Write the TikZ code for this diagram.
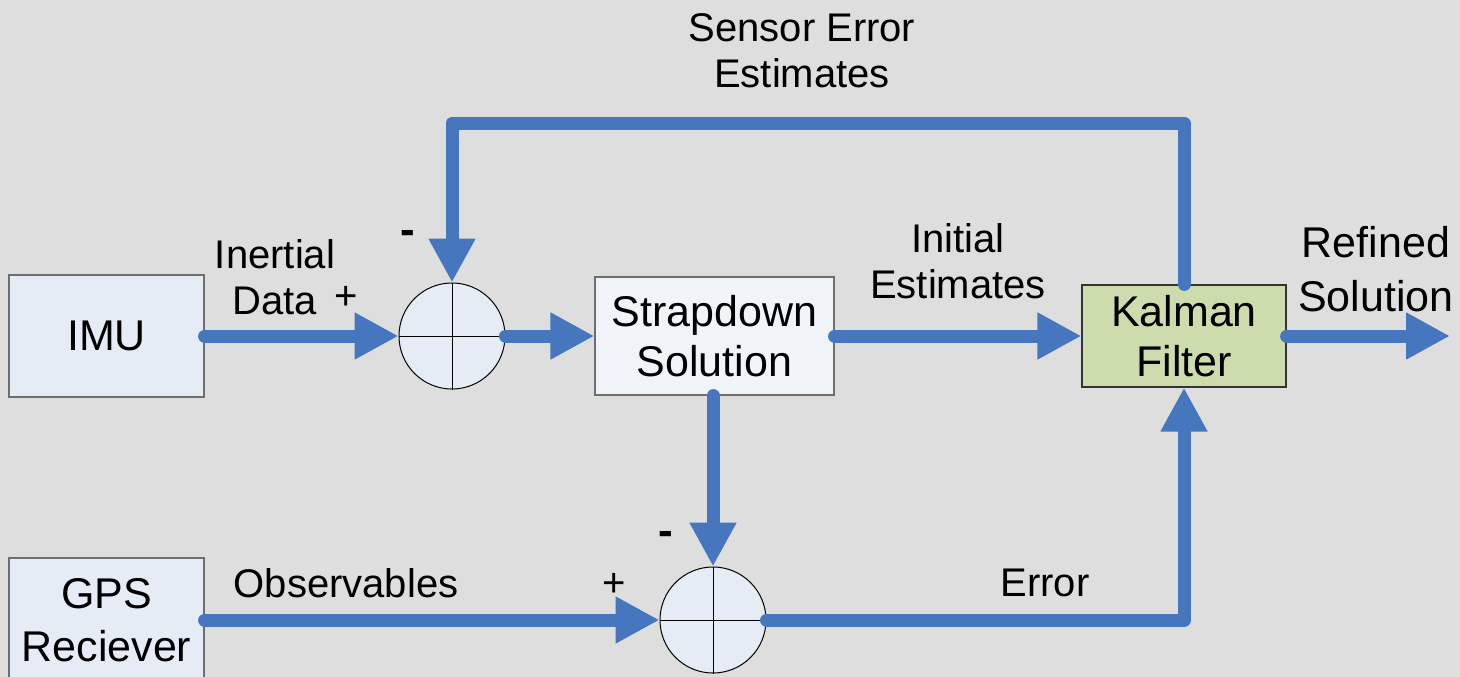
\documentclass[tikz,border=0pt]{standalone}
\usepackage{fontspec}
\setmainfont{Liberation Sans}
\usetikzlibrary{arrows.meta}
\definecolor{bg}{RGB}{222,222,222}
\definecolor{flow}{RGB}{70,119,190}
\definecolor{boxblue}{RGB}{230,236,246}
\definecolor{boxpale}{RGB}{240,243,248}
\definecolor{kalgreen}{RGB}{205,220,172}
\definecolor{edge}{RGB}{110,110,110}
\begin{document}
\begin{tikzpicture}[x=1pt,y=-1pt,
  block/.style={draw=edge, line width=1.2pt, inner sep=0pt, align=center,
    font=\fontsize{43}{50}\selectfont},
  sumnode/.style={circle, draw=black, line width=1pt, fill=boxblue,
    minimum size=106pt, inner sep=0pt},
  flowline/.style={draw=flow, line width=13pt, line cap=round, line join=round,
    -{Triangle[length=44pt,width=44pt]}},
  lab/.style={font=\fontsize{40}{46}\selectfont, align=center, inner sep=0pt},
  sign/.style={font=\fontsize{40}{46}\selectfont, inner sep=0pt},
  minus/.style={font=\fontsize{44}{46}\selectfont\bfseries, inner sep=0pt}]
  % canvas
  \fill[bg] (0,0) rectangle (1460,677);
  \useasboundingbox (0,0) rectangle (1460,677);
  \clip (0,0) rectangle (1460,677);

  % blocks
  \node[block, fill=boxblue, minimum width=195pt, minimum height=122pt] (imu) at (106.5,336) {IMU};
  \node[block, fill=boxpale, minimum width=239pt, minimum height=118pt] (sd) at (714.5,336) {Strapdown\\Solution};
  \node[block, draw=black!80, fill=kalgreen, minimum width=204pt, minimum height=102pt] (kf) at (1184,336) {Kalman\\Filter};
  \node[block, fill=boxblue, minimum width=195pt, minimum height=124pt, font=\fontsize{43}{53}\selectfont] (gps) at (106.5,620) {GPS\\Reciever};

  % summing junctions
  \node[sumnode] (s1) at (452,336) {};
  \draw[line width=1pt] (s1.north) -- (s1.south) (s1.west) -- (s1.east);
  \node[sumnode] (s2) at (713,620) {};
  \draw[line width=1pt] (s2.north) -- (s2.south) (s2.west) -- (s2.east);

  % signal flow
  \coordinate (out) at (1450,336);
  \coordinate (fbR) at (1184,123);
  \coordinate (fbL) at (452,123);
  \coordinate (errC) at (1184,620);
  \draw[flowline] (imu.east) -- (s1.west);
  \draw[flowline] (s1.east) -- (sd.west);
  \draw[flowline] (sd.east) -- (kf.west);
  \draw[flowline] (kf.east) -- (out);
  \draw[flowline] (kf.north) -- (fbR) -- (fbL) -- (s1.north);
  \draw[flowline] (s2 |- sd.south) -- (s2.north);
  \draw[flowline] (gps.east) -- (s2.west);
  \draw[flowline] (s2.east) -- (errC) -- (kf.south);

  % labels
  \node[lab] (lse) at (802,51) {Sensor Error\\Estimates};
  \node[lab] (lid) at (275,277) {Inertial\\Data};
  \node[sign] (p1) at (346,298) {+};
  \node[minus] (m1) at (408,237) {-};
  \node[lab] (lie) at (958,261) {Initial\\Estimates};
  \node[lab, font=\fontsize{43}{54}\selectfont] (lrs) at (1376,269) {Refined\\Solution};
  \node[lab] (lob) at (346,583) {Observables};
  \node[sign] (p2) at (614,585) {+};
  \node[minus] (m2) at (666,538) {-};
  \node[lab] (ler) at (1045,583) {Error};
\end{tikzpicture}
\end{document}
